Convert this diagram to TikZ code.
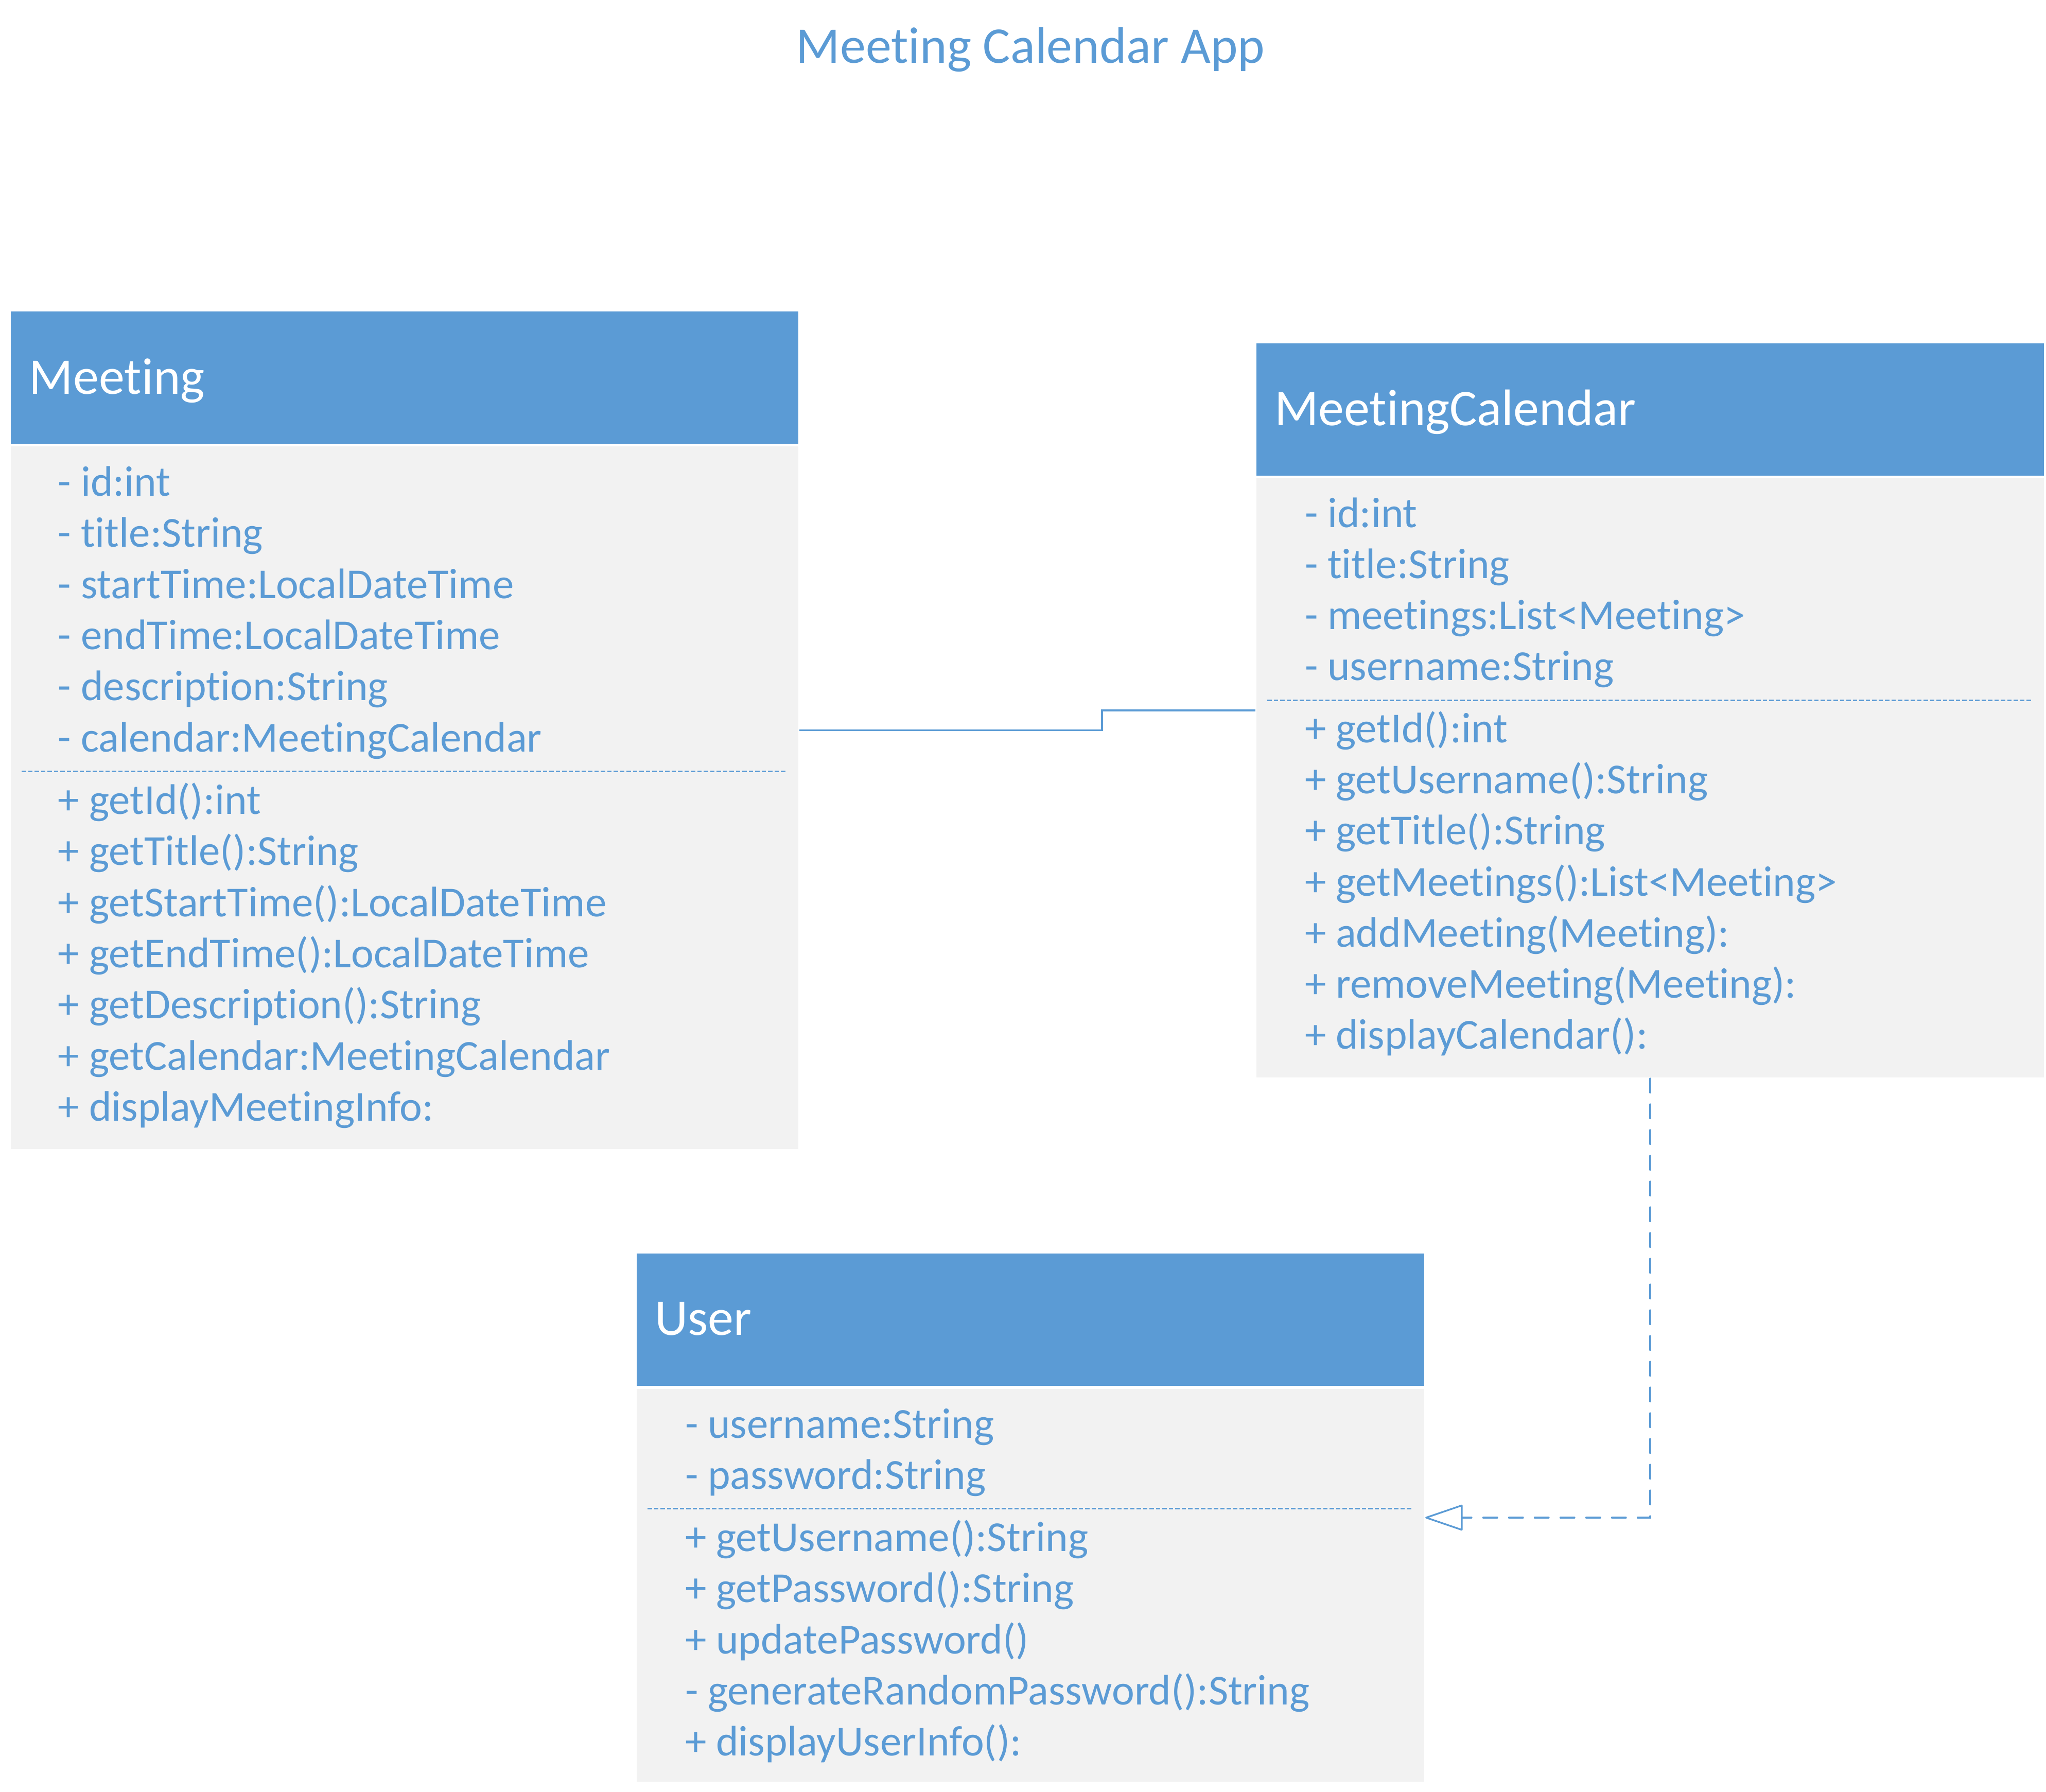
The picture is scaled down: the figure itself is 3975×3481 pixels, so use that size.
\documentclass[tikz,border=0pt]{standalone}
\usepackage{fontspec}
\setmainfont{Carlito}[Ligatures=NoCommon]
\usetikzlibrary{arrows.meta,fit}
\definecolor{ublue}{HTML}{5B9BD5}
\definecolor{ugray}{HTML}{F2F2F2}
\begin{document}
\begin{tikzpicture}[x=0.2pt,y=-0.2pt,
  hdr/.style={fill=ublue,draw=none,anchor=north west,minimum width=306pt,minimum height=51.4pt,inner sep=0pt},
  bodybox/.style={fill=ugray,draw=none,anchor=north west,minimum width=306pt,inner sep=0pt},
  hdrtext/.style={anchor=base west,inner sep=0pt,text=white,font=\fontsize{20pt}{24pt}\selectfont},
  ln/.style={anchor=base west,inner sep=0pt,text=ublue,font=\fontsize{16.6pt}{19.8pt}\selectfont},
  sep/.style={draw=ublue,line width=0.6pt,dash pattern=on 1.74pt off 0.76pt},
  conn/.style={draw=ublue,line width=0.66pt},
  dep/.style={draw=ublue,line width=0.66pt,line cap=round,dash pattern=on 5.5pt off 4.5pt,
    -{Triangle[length=15.2pt,width=10.2pt,fill=white,line cap=round,line join=round]}}]
\useasboundingbox (0,0) rectangle (3975,3481);
% title
\node[anchor=base,inner sep=0pt,text=ublue,font=\fontsize{20pt}{24pt}\selectfont] (title) at (2002,122) {Meeting Calendar App};

% ---------------- Meeting ----------------
\node[hdr] (mh) at (20,604) {};
\node[bodybox,minimum height=273pt] (mb) at (20,866) {};
\node[fit=(mh)(mb),inner sep=0pt] (meeting) {};
\node[hdrtext] (mt) at (56,765) {Meeting};
\node[ln] (ma1) at (112,963) {- id:int};
\node[ln] (ma2) at (112,1062) {- title:String};
\node[ln] (ma3) at (112,1162) {- startTime:LocalDateTime};
\node[ln] (ma4) at (112,1261) {- endTime:LocalDateTime};
\node[ln] (ma5) at (112,1360) {- description:String};
\node[ln] (ma6) at (112,1460) {- calendar:MeetingCalendar};
\coordinate (ms1) at (42,1498);
\coordinate (ms2) at (1528,1498);
\draw[sep] (ms1) -- (ms2);
\node[ln] (mm1) at (112,1581) {+ getId():int};
\node[ln] (mm2) at (112,1680) {+ getTitle():String};
\node[ln] (mm3) at (112,1780) {+ getStartTime():LocalDateTime};
\node[ln] (mm4) at (112,1879) {+ getEndTime():LocalDateTime};
\node[ln] (mm5) at (112,1978) {+ getDescription():String};
\node[ln] (mm6) at (112,2078) {+ getCalendar:MeetingCalendar};
\node[ln] (mm7) at (112,2177) {+ displayMeetingInfo:};

% ---------------- MeetingCalendar ----------------
\node[hdr] (ch) at (2440,666) {};
\node[bodybox,minimum height=232.8pt] (cb) at (2440,928) {};
\node[fit=(ch)(cb),inner sep=0pt] (mc) {};
\node[hdrtext] (ct) at (2475,826) {MeetingCalendar};
\node[ln] (ca1) at (2534,1024) {- id:int};
\node[ln] (ca2) at (2534,1123) {- title:String};
\node[ln] (ca3) at (2534,1222) {- meetings:List<Meeting>};
\node[ln] (ca4) at (2534,1321) {- username:String};
\coordinate (cs1) at (2462,1360);
\coordinate (cs2) at (3947,1360);
\draw[sep] (cs1) -- (cs2);
\node[ln] (cm1) at (2534,1442) {+ getId():int};
\node[ln] (cm2) at (2534,1541) {+ getUsername():String};
\node[ln] (cm3) at (2534,1640) {+ getTitle():String};
\node[ln] (cm4) at (2534,1740) {+ getMeetings():List<Meeting>};
\node[ln] (cm5) at (2534,1839) {+ addMeeting(Meeting):};
\node[ln] (cm6) at (2534,1938) {+ removeMeeting(Meeting):};
\node[ln] (cm7) at (2534,2037) {+ displayCalendar():};

% ---------------- User ----------------
\node[hdr] (uh) at (1236,2434) {};
\node[bodybox,minimum height=152.6pt] (ub) at (1236,2697) {};
\node[fit=(uh)(ub),inner sep=0pt] (user) {};
\node[hdrtext] (ut) at (1271,2593) {User};
\node[ln] (ua1) at (1330,2793) {- username:String};
\node[ln] (ua2) at (1330,2892) {- password:String};
\coordinate (us1) at (1258,2930);
\coordinate (us2) at (2743,2930);
\draw[sep] (us1) -- (us2);
\node[ln] (um1) at (1330,3013) {+ getUsername():String};
\node[ln] (um2) at (1330,3112) {+ getPassword():String};
\node[ln] (um3) at (1330,3212) {+ updatePassword()};
\node[ln] (um4) at (1330,3311) {- generateRandomPassword():String};
\node[ln] (um5) at (1330,3410) {+ displayUserInfo():};

% ---------------- connectors ----------------
\draw[conn] (meeting.east) -- ++(588,0) |- (mc.west);
\draw[dep] (mc.south) |- (user.east);
\end{tikzpicture}
\end{document}
